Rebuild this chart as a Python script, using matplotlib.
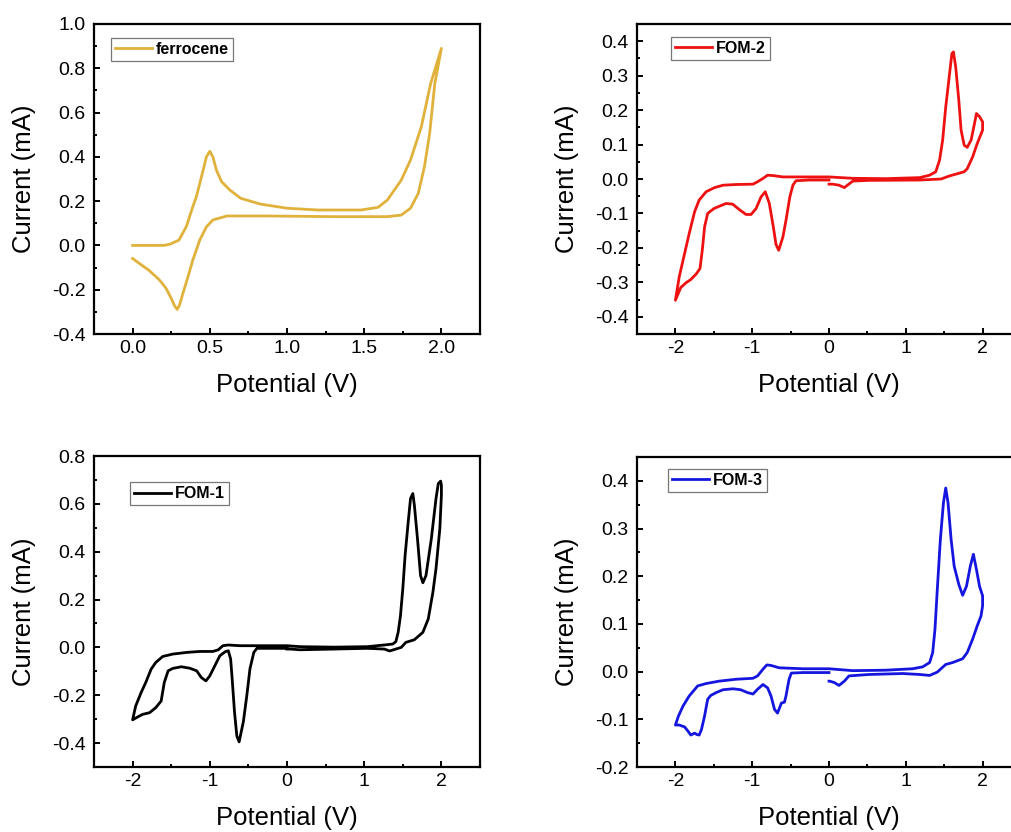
import numpy as np
import matplotlib
matplotlib.use('Agg')
import matplotlib.pyplot as plt
from matplotlib.ticker import MultipleLocator

plt.rcParams['font.family'] = ['Liberation Sans', 'DejaVu Sans']
plt.rcParams['axes.unicode_minus'] = False

# ferrocene: 0 -> 2 V and back to 0 V
fc_x = [0.0, 0.10, 0.20, 0.24, 0.30, 0.348, 0.39, 0.413, 0.457, 0.478, 0.50, 0.52, 0.543, 0.576,
        0.63, 0.70, 0.826, 1.0, 1.2, 1.48, 1.59, 1.65, 1.74, 1.80, 1.87, 1.93, 2.0,
        1.957, 1.924, 1.89, 1.85, 1.80, 1.74, 1.65, 1.30, 0.87, 0.61, 0.52, 0.478, 0.435,
        0.39, 0.359, 0.326, 0.304, 0.289, 0.272, 0.25, 0.217, 0.174, 0.109, 0.043, 0.0]
fc_y = [0.0, 0.0, 0.0, 0.005, 0.024, 0.085, 0.175, 0.22, 0.34, 0.40, 0.425, 0.40, 0.34, 0.288,
        0.25, 0.213, 0.187, 0.168, 0.16, 0.16, 0.172, 0.205, 0.295, 0.386, 0.536, 0.73, 0.89,
        0.73, 0.506, 0.355, 0.235, 0.168, 0.137, 0.13, 0.13, 0.133, 0.133, 0.115, 0.084, 0.024,
        -0.066, -0.141, -0.216, -0.269, -0.289, -0.273, -0.239, -0.194, -0.156, -0.114, -0.081, -0.059]

# FOM-2: 0 -> -2 -> 2 -> 0 V
fom2_x = [0.0, -0.256, -0.43, -0.47, -0.51, -0.56, -0.60, -0.655, -0.69, -0.725, -0.777, -0.83,
          -0.885, -0.95, -1.015, -1.08, -1.167, -1.254, -1.34, -1.427, -1.50, -1.58, -1.62, -1.65,
          -1.68, -1.73, -1.80, -1.86, -1.93, -2.0,
          -1.95, -1.88, -1.82, -1.75, -1.69, -1.60, -1.49, -1.38, -1.21, -0.99, -0.93, -0.86,
          -0.80, -0.73, -0.60, 0.0, 0.31, 0.74, 1.18, 1.31, 1.39, 1.44, 1.48, 1.52, 1.57, 1.60,
          1.62, 1.65, 1.69, 1.72, 1.76, 1.80, 1.85, 1.89, 1.92, 1.96, 2.0,
          2.0, 1.93, 1.87, 1.80, 1.76, 1.65, 1.57, 1.46, 1.18, 0.52, 0.31, 0.24, 0.20, 0.13,
          0.05, 0.0]
fom2_y = [-0.003, -0.003, -0.005, -0.018, -0.052, -0.12, -0.168, -0.207, -0.19, -0.139, -0.071,
          -0.037, -0.052, -0.086, -0.103, -0.103, -0.089, -0.073, -0.071, -0.079, -0.086, -0.1,
          -0.139, -0.207, -0.26, -0.276, -0.292, -0.301, -0.315, -0.352,
          -0.284, -0.216, -0.158, -0.095, -0.061, -0.037, -0.025, -0.018, -0.016, -0.015, -0.008,
          0.0015, 0.011, 0.010, 0.006, 0.006, 0.002, 0.001, 0.004, 0.011, 0.021, 0.055, 0.113,
          0.209, 0.306, 0.364, 0.369, 0.325, 0.229, 0.142, 0.098, 0.092, 0.113, 0.156, 0.190,
          0.181, 0.166,
          0.142, 0.103, 0.064, 0.030, 0.021, 0.014, 0.009, 0.0, -0.003, -0.004, -0.006, -0.018,
          -0.025, -0.018, -0.015, -0.015]

# FOM-1: 0 -> -2 -> 2 -> 0 V
fom1_x = [0.0, -0.39, -0.43, -0.48, -0.52, -0.565, -0.62, -0.65, -0.68, -0.71, -0.73, -0.76,
          -0.80, -0.87, -0.935, -1.0, -1.05, -1.11, -1.17, -1.26, -1.37, -1.48, -1.54, -1.59,
          -1.63, -1.70, -1.78, -1.87, -1.93, -2.0,
          -1.96, -1.89, -1.83, -1.76, -1.70, -1.61, -1.48, -1.30, -1.13, -0.96, -0.89, -0.83,
          -0.76, -0.61, -0.26, 0.0, 0.17, 0.61, 1.04, 1.26, 1.37, 1.41, 1.44, 1.47, 1.50, 1.53,
          1.57, 1.60, 1.63, 1.65, 1.69, 1.73, 1.76, 1.80, 1.87, 1.93, 1.96, 1.99, 2.0,
          2.0, 1.98, 1.93, 1.89, 1.83, 1.76, 1.65, 1.54, 1.48, 1.41, 1.33, 1.26, 1.04, 0.61,
          0.17, 0.04, 0.0]
fom1_y = [-0.004, -0.004, -0.021, -0.09, -0.2, -0.31, -0.395, -0.37, -0.27, -0.133, -0.049,
          -0.014, -0.018, -0.035, -0.077, -0.119, -0.14, -0.126, -0.098, -0.087, -0.081, -0.088,
          -0.098, -0.147, -0.224, -0.252, -0.273, -0.28, -0.29, -0.303,
          -0.245, -0.189, -0.147, -0.091, -0.063, -0.038, -0.028, -0.021, -0.017, -0.017, -0.01,
          0.007, 0.01, 0.007, 0.007, 0.007, 0.003, 0.001, 0.003, 0.01, 0.014, 0.024, 0.063,
          0.133, 0.245, 0.385, 0.524, 0.622, 0.643, 0.594, 0.455, 0.30, 0.27, 0.30, 0.455,
          0.622, 0.685, 0.695, 0.678,
          0.636, 0.497, 0.329, 0.231, 0.119, 0.063, 0.032, 0.021, 0.0, -0.007, -0.015, -0.007,
          -0.004, -0.007, -0.01, -0.007, -0.007]

# FOM-3: 0 -> -2 -> 2 -> 0 V
fom3_x = [0.0, -0.34, -0.49, -0.52, -0.56, -0.58, -0.62, -0.67, -0.71, -0.755, -0.80, -0.86,
          -0.93, -0.99, -1.06, -1.15, -1.25, -1.38, -1.47, -1.54, -1.58, -1.62, -1.66, -1.69,
          -1.72, -1.75, -1.80, -1.84, -1.88, -1.95, -2.0,
          -1.96, -1.90, -1.82, -1.71, -1.60, -1.43, -1.21, -0.99, -0.93, -0.86, -0.81, -0.755,
          -0.65, -0.34, 0.0, 0.31, 0.74, 1.09, 1.22, 1.31, 1.35, 1.38, 1.41, 1.45, 1.49, 1.52,
          1.55, 1.59, 1.63, 1.69, 1.74, 1.79, 1.84, 1.88, 1.92, 1.96, 2.0,
          2.0, 1.98, 1.93, 1.87, 1.80, 1.74, 1.61, 1.52, 1.41, 1.31, 1.18, 0.96, 0.52, 0.26,
          0.20, 0.13, 0.07, 0.01, 0.0]
fom3_y = [-0.002, -0.002, -0.003, -0.016, -0.051, -0.064, -0.066, -0.087, -0.079, -0.051,
          -0.034, -0.027, -0.037, -0.047, -0.044, -0.038, -0.036, -0.038, -0.044, -0.05, -0.058,
          -0.093, -0.121, -0.133, -0.132, -0.129, -0.133, -0.124, -0.116, -0.112, -0.112,
          -0.093, -0.072, -0.051, -0.03, -0.025, -0.02, -0.016, -0.014, -0.009, 0.005, 0.014,
          0.013, 0.008, 0.006, 0.006, 0.002, 0.003, 0.006, 0.01, 0.019, 0.04, 0.089, 0.172,
          0.277, 0.354, 0.385, 0.354, 0.277, 0.221, 0.183, 0.16, 0.179, 0.221, 0.246, 0.214,
          0.179, 0.159,
          0.138, 0.117, 0.096, 0.068, 0.04, 0.027, 0.019, 0.015, -0.001, -0.008, -0.006, -0.004,
          -0.006, -0.009, -0.02, -0.029, -0.023, -0.02, -0.02]

W, H = 1012, 832
fig = plt.figure(figsize=(W / 100, H / 100), dpi=100)


def px_axes(l, t, r, b):
    return fig.add_axes([l / W, 1 - b / H, (r - l) / W, (b - t) / H])


def style(ax, xlim, ylim, xmaj, ymaj, yfmt):
    ax.set_xlim(*xlim)
    ax.set_ylim(*ylim)
    ax.xaxis.set_major_locator(MultipleLocator(xmaj))
    ax.xaxis.set_minor_locator(MultipleLocator(xmaj / 2))
    ax.yaxis.set_major_locator(MultipleLocator(ymaj))
    ax.yaxis.set_minor_locator(MultipleLocator(ymaj / 2))
    ax.yaxis.set_major_formatter(yfmt)
    for s in ax.spines.values():
        s.set_linewidth(1.6)
    ax.tick_params(which='both', direction='in', width=1.4, labelsize=14, colors='black')
    ax.tick_params(which='major', length=4, pad=4)
    ax.tick_params(which='minor', length=2.2)
    ax.tick_params(axis='y', pad=6)
    ax.set_xlabel('Potential (V)', fontsize=18.5)
    ax.set_ylabel('Current (mA)', fontsize=18.5)
    ax.xaxis.set_label_coords(0.5, -0.125)
    ax.yaxis.set_label_coords(-0.15, 0.5)


def leg(ax, x, y):
    lg = ax.legend(loc='upper left', bbox_to_anchor=(x, y), fancybox=False, borderaxespad=0,
                   borderpad=0.25, handlelength=2.3, handletextpad=0.25,
                   prop={'weight': 'bold', 'size': 11.5})
    lg.get_frame().set_edgecolor('#555555')
    lg.get_frame().set_linewidth(0.9)


fmt1 = lambda v, p: '%.1f' % v if abs(v) > 1e-9 else '0.0'

ax1 = px_axes(94, 24, 480, 334)
ax1.plot(fc_x, fc_y, color='#E0B23C', lw=2, label='ferrocene')
style(ax1, (-0.25, 2.25), (-0.4, 1.0), 0.5, 0.2, fmt1)
ax1.xaxis.set_major_formatter(fmt1)
leg(ax1, 0.044, 0.955)

ax2 = px_axes(637, 24, 1021, 334)
ax2.plot(fom2_x, fom2_y, color='#EE1111', lw=2, label='FOM-2')
style(ax2, (-2.5, 2.5), (-0.45, 0.45), 1, 0.1, fmt1)
leg(ax2, 0.089, 0.959)

ax3 = px_axes(94, 456, 480, 767)
ax3.plot(fom1_x, fom1_y, color='black', lw=2, label='FOM-1')
style(ax3, (-2.5, 2.5), (-0.5, 0.8), 1, 0.2, fmt1)
leg(ax3, 0.093, 0.916)

ax4 = px_axes(637, 457, 1021, 767)
ax4.plot(fom3_x, fom3_y, color='#1515E0', lw=2, label='FOM-3')
style(ax4, (-2.5, 2.5), (-0.2, 0.45), 1, 0.1, fmt1)
leg(ax4, 0.081, 0.961)

fig.savefig('out.png', dpi=100)
